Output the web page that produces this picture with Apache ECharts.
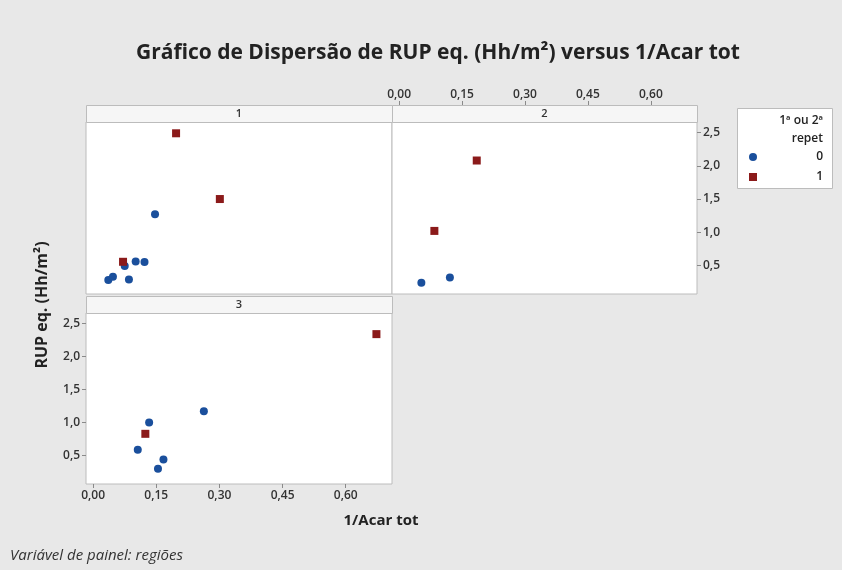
<!DOCTYPE html>
<html>
<head>
<meta charset="utf-8">
<script src="https://cdn.jsdelivr.net/npm/echarts@6/dist/echarts.min.js"></script>
<style>
html, body { margin: 0; padding: 0; background: #e8e8e8; }
#chart { width: 842px; height: 570px; }
</style>
</head>
<body>
<div id="chart"></div>
<script>
// Painéis (regiões) e marcas de eixo
const panelNames = ['1', '2', '3'];
const xTicks = [0, 0.15, 0.30, 0.45, 0.60];
const yTicks = [0.5, 1.0, 1.5, 2.0, 2.5];
const groupNames = ['0', '1'];

// 1/Acar tot (X) e RUP eq. (Y) por painel e repetição
const p1Rep0X = [0.147, 0.075, 0.101, 0.122, 0.036, 0.047, 0.085];
const p1Rep0Y = [1.27, 0.49, 0.56, 0.55, 0.28, 0.33, 0.29];
const p1Rep1X = [0.197, 0.301, 0.071];
const p1Rep1Y = [2.49, 1.50, 0.555];

const p2Rep0X = [0.053, 0.121];
const p2Rep0Y = [0.24, 0.32];
const p2Rep1X = [0.185, 0.084];
const p2Rep1Y = [2.08, 1.02];

const p3Rep0X = [0.263, 0.133, 0.106, 0.167, 0.154];
const p3Rep0Y = [1.17, 1.00, 0.59, 0.44, 0.30];
const p3Rep1X = [0.673, 0.124];
const p3Rep1Y = [2.34, 0.83];

const BLUE = '#1a4f9c';
const RED = '#8b1a1a';
const FONT = '"Open Sans", "Noto Sans", sans-serif';

const zip = (xs, ys) => xs.map((x, i) => [x, ys[i]]);
const comma = (v, d) => v.toFixed(d).replace('.', ',');

// Plot areas of the three panels
const panels = [
  { left: 86, top: 122, width: 306, height: 172, xShow: false, yShow: false, xPos: 'bottom', yPos: 'left' },
  { left: 392, top: 122, width: 305, height: 172, xShow: true, yShow: true, xPos: 'top', yPos: 'right' },
  { left: 86, top: 313, width: 306, height: 171, xShow: true, yShow: true, xPos: 'bottom', yPos: 'left' }
];
const stripH = 17;

const grids = panels.map(p => ({
  left: p.left, top: p.top, width: p.width, height: p.height,
  show: true, backgroundColor: '#ffffff', borderColor: '#bcbcbc', borderWidth: 1
}));

const tickStyle = { color: '#8a8a8a', width: 1 };
const labelStyle = { color: '#333', fontFamily: FONT, fontSize: 12, fontWeight: 600 };

const xAxes = panels.map((p, i) => ({
  type: 'value', gridIndex: i, position: p.xPos,
  offset: p.xPos === 'top' ? stripH : 0,
  min: -0.017, max: 0.71,
  splitLine: { show: false },
  axisLine: { show: false, onZero: false },
  axisTick: { show: p.xShow, customValues: xTicks, length: 4, inside: false, lineStyle: tickStyle },
  axisLabel: Object.assign({
    show: p.xShow, customValues: xTicks, margin: p.xPos === 'top' ? 4 : 6,
    formatter: v => comma(v, 2)
  }, labelStyle)
}));

const yAxes = panels.map((p, i) => ({
  type: 'value', gridIndex: i, position: p.yPos,
  min: 0.07, max: 2.66,
  splitLine: { show: false },
  axisLine: { show: false, onZero: false },
  axisTick: { show: p.yShow, customValues: yTicks, length: 4, inside: false, lineStyle: tickStyle },
  axisLabel: Object.assign({
    show: p.yShow, customValues: yTicks, margin: 6,
    formatter: v => comma(v, 1)
  }, labelStyle)
}));

const panelData = [
  [zip(p1Rep0X, p1Rep0Y), zip(p1Rep1X, p1Rep1Y)],
  [zip(p2Rep0X, p2Rep0Y), zip(p2Rep1X, p2Rep1Y)],
  [zip(p3Rep0X, p3Rep0Y), zip(p3Rep1X, p3Rep1Y)]
];

const series = [];
panelData.forEach((pair, i) => {
  series.push({
    name: groupNames[0], type: 'scatter', xAxisIndex: i, yAxisIndex: i,
    symbol: 'circle', symbolSize: 8, itemStyle: { color: BLUE, opacity: 1 }, data: pair[0]
  });
  series.push({
    name: groupNames[1], type: 'scatter', xAxisIndex: i, yAxisIndex: i,
    symbol: 'rect', symbolSize: 8, itemStyle: { color: RED, opacity: 1 }, data: pair[1]
  });
});

// Strip headers above each panel
const graphics = [];
panels.forEach((p, i) => {
  graphics.push({
    type: 'rect', left: p.left, top: p.top - stripH,
    shape: { width: p.width, height: stripH },
    style: { fill: '#f6f6f6', stroke: '#bcbcbc', lineWidth: 1 }
  });
  graphics.push({
    type: 'text', x: p.left + p.width / 2, y: p.top - stripH / 2,
    style: { text: panelNames[i], fill: '#333', font: '600 11px ' + FONT, align: 'center', verticalAlign: 'middle' }
  });
});

// Axis titles and footer
graphics.push({
  type: 'text', x: 381, y: 521,
  style: { text: '1/Acar tot', fill: '#222', font: 'bold 15px ' + FONT, align: 'center', verticalAlign: 'middle' }
});
graphics.push({
  type: 'text', x: 42, y: 305, rotation: Math.PI / 2,
  style: { text: 'RUP eq. (Hh/m²)', fill: '#222', font: 'bold 16px ' + FONT, align: 'center', verticalAlign: 'middle' }
});
graphics.push({
  type: 'text', x: 10, y: 556,
  style: { text: 'Variável de painel: regiões', fill: '#333', font: 'italic 15px ' + FONT, align: 'left', verticalAlign: 'middle' }
});

// Legend box
const legendFont = '600 12px ' + FONT;
graphics.push({
  type: 'rect', left: 737, top: 108,
  shape: { width: 95, height: 80 },
  style: { fill: '#ffffff', stroke: '#bcbcbc', lineWidth: 1 }
});
graphics.push({
  type: 'text', x: 823, y: 121,
  style: { text: '1ª ou 2ª', fill: '#222', font: legendFont, align: 'right', verticalAlign: 'middle' }
});
graphics.push({
  type: 'text', x: 823, y: 139,
  style: { text: 'repet', fill: '#222', font: legendFont, align: 'right', verticalAlign: 'middle' }
});
graphics.push({
  type: 'circle', shape: { cx: 753, cy: 157, r: 4 }, style: { fill: BLUE }
});
graphics.push({
  type: 'text', x: 823, y: 157,
  style: { text: groupNames[0], fill: '#222', font: legendFont, align: 'right', verticalAlign: 'middle' }
});
graphics.push({
  type: 'rect', shape: { x: 749, y: 173, width: 8, height: 8 }, style: { fill: RED }
});
graphics.push({
  type: 'text', x: 823, y: 177,
  style: { text: groupNames[1], fill: '#222', font: legendFont, align: 'right', verticalAlign: 'middle' }
});

const chart = echarts.init(document.getElementById('chart'), null, { renderer: 'canvas' });
chart.setOption({
  backgroundColor: '#e8e8e8',
  animation: false,
  title: {
    text: 'Gráfico de Dispersão de RUP eq. (Hh/m²) versus 1/Acar tot',
    left: 131, top: 38,
    textStyle: { color: '#222', fontFamily: FONT, fontSize: 21, fontWeight: 'bold' }
  },
  grid: grids,
  xAxis: xAxes,
  yAxis: yAxes,
  series: series,
  graphic: graphics
});
</script>
</body>
</html>
